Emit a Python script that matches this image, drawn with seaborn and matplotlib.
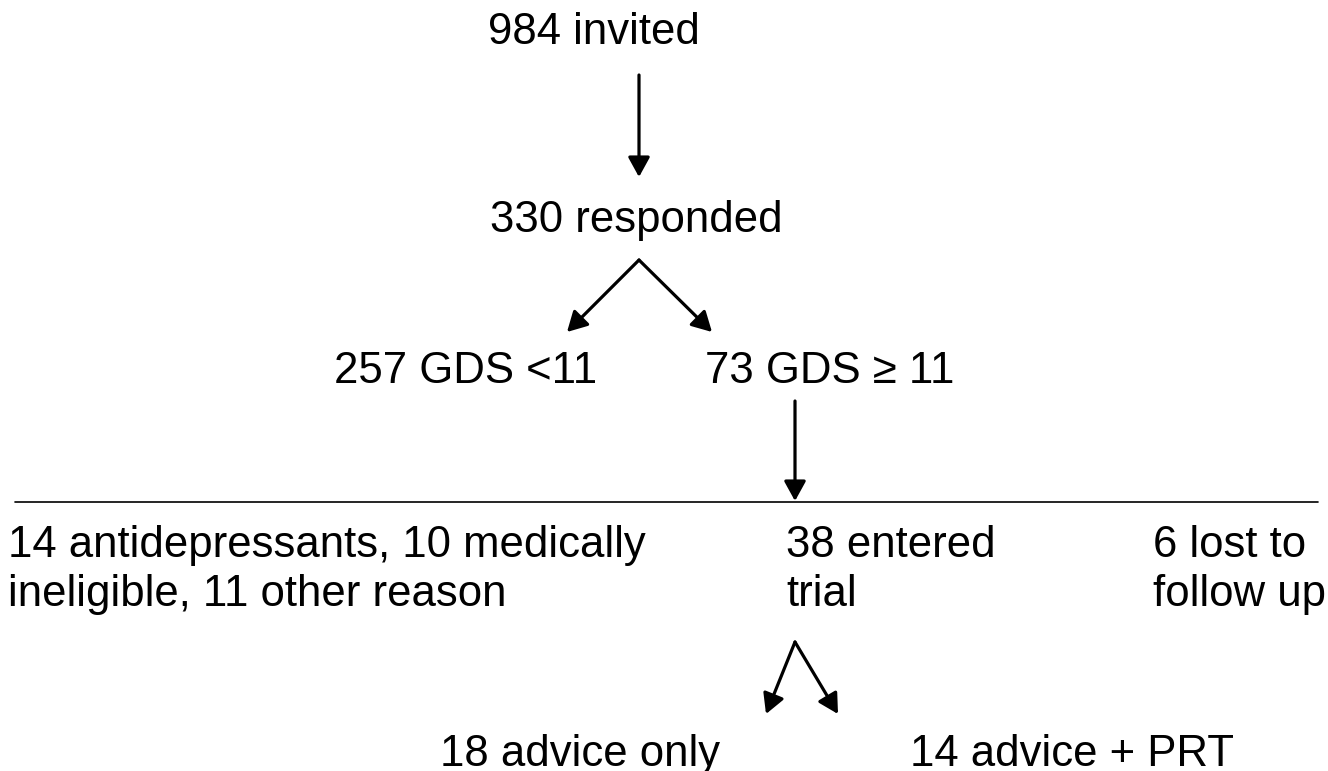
import matplotlib
matplotlib.use("Agg")
import matplotlib.pyplot as plt
import seaborn as sns

# flow counts
invited = 984
responded = 330
gds_low = 257
gds_high = 73
cut_off = 11
excl_antidep = 14
excl_medical = 10
excl_other = 11
entered = 38
lost = 6
advice_only = 18
advice_prt = 14

# text lines for each box
labels = [
    [f"{invited} invited"],
    [f"{responded} responded"],
    [f"{gds_low} GDS <{cut_off}"],
    [f"{gds_high} GDS \u2265 {cut_off}"],
    [f"{excl_antidep} antidepressants, {excl_medical} medically",
     f"ineligible, {excl_other} other reason"],
    [f"{entered} entered", "trial"],
    [f"{lost} lost to", "follow up"],
    [f"{advice_only} advice only"],
    [f"{advice_prt} advice + PRT"],
]

# layout (pixels, left edge / first baseline)
label_x = [488, 490, 334, 705, 8, 786, 1153, 440, 910]
label_y = [44, 232, 383, 383, 557, 557, 557, 766, 766]
line_gap = 49

# arrows: (start, end)
arrows = [
    ((639, 75), (639, 177)),
    ((639, 260), (567, 332)),
    ((639, 260), (712, 332)),
    ((795, 401), (795, 501)),
    ((795, 642), (766, 714)),
    ((795, 642), (838, 714)),
]

sns.set_theme(style="white")
plt.rcParams["font.family"] = ["Liberation Sans", "DejaVu Sans"]

fig = plt.figure(figsize=(13.28, 7.71), dpi=100)
ax = fig.add_axes([0, 0, 1, 1])
ax.set_xlim(0, 1328)
ax.set_ylim(771, 0)
ax.axis("off")

for lines, x, y in zip(labels, label_x, label_y):
    for i, s in enumerate(lines):
        ax.text(x, y + i * line_gap, s, fontsize=31.5, color="black",
                ha="left", va="baseline")

for (x0, y0), (x1, y1) in arrows:
    ax.annotate("", xy=(x1, y1), xytext=(x0, y0),
                arrowprops=dict(arrowstyle="-|>,head_length=0.6,head_width=0.33",
                                mutation_scale=20, color="black", lw=2.3,
                                shrinkA=0, shrinkB=0))

ax.plot([15, 1318], [502, 502], color="black", lw=1.2)

fig.savefig("out.png", dpi=100, facecolor="white")
